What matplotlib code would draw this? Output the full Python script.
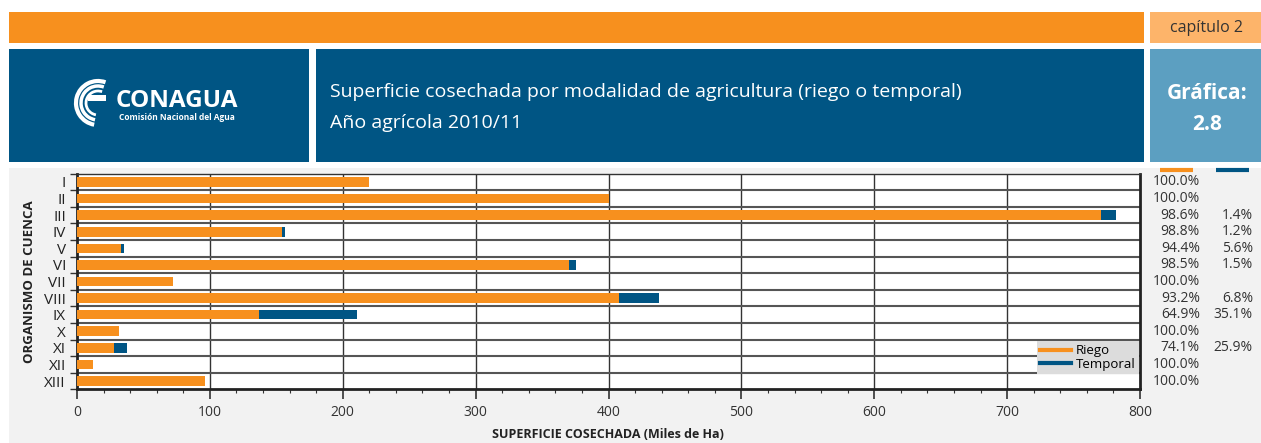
import matplotlib.pyplot as plt
from matplotlib.patches import Rectangle, Arc
from matplotlib.lines import Line2D
import numpy as np

plt.rcParams['font.family'] = ['Open Sans', 'DejaVu Sans']

# Data (miles de hectáreas)
organismos = ['I', 'II', 'III', 'IV', 'V', 'VI', 'VII', 'VIII', 'IX', 'X', 'XI', 'XII', 'XIII']
riego = [220, 400, 771, 154.5, 33, 370, 72, 408, 137, 31.5, 27.9, 12, 96.5]
temporal = [0, 0, 11, 1.9, 2, 5.6, 0, 30, 74, 0, 9.7, 0, 0]
pct_riego = ['100.0%', '100.0%', '98.6%', '98.8%', '94.4%', '98.5%', '100.0%',
             '93.2%', '64.9%', '100.0%', '74.1%', '100.0%', '100.0%']
pct_temporal = ['', '', '1.4%', '1.2%', '5.6%', '1.5%', '',
                '6.8%', '35.1%', '', '25.9%', '', '']

ORANGE = '#F7901E'
BLUE = '#005584'
LIGHT_ORANGE = '#FDB46A'
LIGHT_BLUE = '#5C9FC1'
W, H = 1261, 443

fig = plt.figure(figsize=(W / 100, H / 100), dpi=100)

# background axes in pixel coordinates
bg = fig.add_axes([0, 0, 1, 1])
bg.set_xlim(0, W)
bg.set_ylim(H, 0)
bg.axis('off')


def box(x0, y0, x1, y1, color):
    bg.add_patch(Rectangle((x0, y0), x1 - x0, y1 - y0, facecolor=color, edgecolor='none'))


box(9, 12, 1144, 43, ORANGE)
box(1150, 12, W, 43, LIGHT_ORANGE)
box(9, 49, 309, 162, BLUE)
box(316, 49, 1144, 162, BLUE)
box(1150, 49, W, 162, LIGHT_BLUE)
box(9, 168, W, H, '#F2F2F2')

bg.text(1207, 28, 'capítulo 2', ha='center', va='center', fontsize=11.5, color='#333333')
bg.text(1207, 93, 'Gráfica:', ha='center', va='center', fontsize=15, color='white', fontweight='bold')
bg.text(1207, 124, '2.8', ha='center', va='center', fontsize=15, color='white', fontweight='bold')
bg.text(330, 92, 'Superficie cosechada por modalidad de agricultura (riego o temporal)',
        ha='left', va='center', fontsize=14, color='white')
bg.text(330, 123, 'Año agrícola 2010/11', ha='left', va='center', fontsize=14, color='white')

# CONAGUA logo (simplified)
bg.text(116, 101, 'CONAGUA', ha='left', va='center', fontsize=17.5, color='white', fontweight='bold')
bg.text(119, 117, 'Comisión Nacional del Agua', ha='left', va='center', fontsize=6,
        color='white', fontweight='bold')
for r, lw in [(22, 3), (17, 2.5), (12, 2)]:
    bg.add_patch(Arc((98, 103), 2 * r, 2 * r, theta1=100, theta2=290, color='white', lw=lw))
bg.add_patch(Rectangle((88, 95), 18, 6, facecolor='white', edgecolor='none'))

# markers above percentage columns
bg.plot([1160, 1193], [170, 170], color=ORANGE, lw=3, solid_capstyle='butt')
bg.plot([1216, 1249], [170, 170], color=BLUE, lw=3, solid_capstyle='butt')

# x-axis title
bg.text(608, 434, 'SUPERFICIE COSECHADA (Miles de Ha)', ha='center', va='center',
        fontsize=9, fontweight='bold', color='#222222')

# chart axes
x0, x1, y0, y1 = 77, 1140, 173.7, 389.3
ax = fig.add_axes([x0 / W, 1 - y1 / H, (x1 - x0) / W, (y1 - y0) / H])
ax.set_facecolor('white')
y = np.arange(len(organismos))
ax.barh(y, riego, height=0.58, color=ORANGE, zorder=3)
ax.barh(y, temporal, left=riego, height=0.58, color=BLUE, zorder=3)

ax.set_xlim(0, 800)
ax.set_ylim(len(organismos) - 0.5, -0.5)
ax.set_xticks(np.arange(0, 801, 100))
ax.set_xticks(np.arange(0, 801, 20), minor=True)
ax.set_yticks(y)
ax.set_yticklabels(organismos)
ax.set_yticks(np.arange(-0.5, len(organismos), 1), minor=True)
ax.tick_params(axis='y', which='major', length=0, labelsize=11, pad=8, colors='#222222')
ax.tick_params(axis='y', which='minor', length=5, width=1, color='#333333')
ax.tick_params(axis='x', which='major', length=7, width=1.2, labelsize=10, pad=4, colors='#333333')
ax.tick_params(axis='x', which='minor', length=3, width=0.8, color='#333333')

for v in range(100, 800, 100):
    ax.axvline(v, color='#333333', lw=1, zorder=1)
for b in np.arange(0.5, len(organismos) - 1, 1):
    ax.axhline(b, color='#555555', lw=1.5, zorder=1)

for s in ['left', 'bottom', 'right']:
    ax.spines[s].set_linewidth(2)
    ax.spines[s].set_color('#222222')
ax.spines['top'].set_linewidth(1)
ax.spines['top'].set_color('#333333')

for i in y:
    ax.text(845, i, pct_riego[i], ha='right', va='center', fontsize=10, color='#333333', clip_on=False)
    ax.text(885, i, pct_temporal[i], ha='right', va='center', fontsize=10, color='#333333', clip_on=False)

handles = [Line2D([], [], color=ORANGE, lw=3), Line2D([], [], color=BLUE, lw=3)]
leg = ax.legend(handles, ['Riego', 'Temporal'], loc='lower right', bbox_to_anchor=(0.999, 0.07),
                fontsize=9.5, frameon=True, fancybox=False, handlelength=2.3, borderpad=0.25,
                labelspacing=0.05, handletextpad=0.4, borderaxespad=0)
leg.get_frame().set_facecolor('#DCDCDC')
leg.get_frame().set_edgecolor('none')
leg.get_frame().set_alpha(1)

ax.set_ylabel('ORGANISMO DE CUENCA', fontsize=9.5, fontweight='bold', color='#222222', labelpad=6)

fig.savefig('out.png', dpi=100)
